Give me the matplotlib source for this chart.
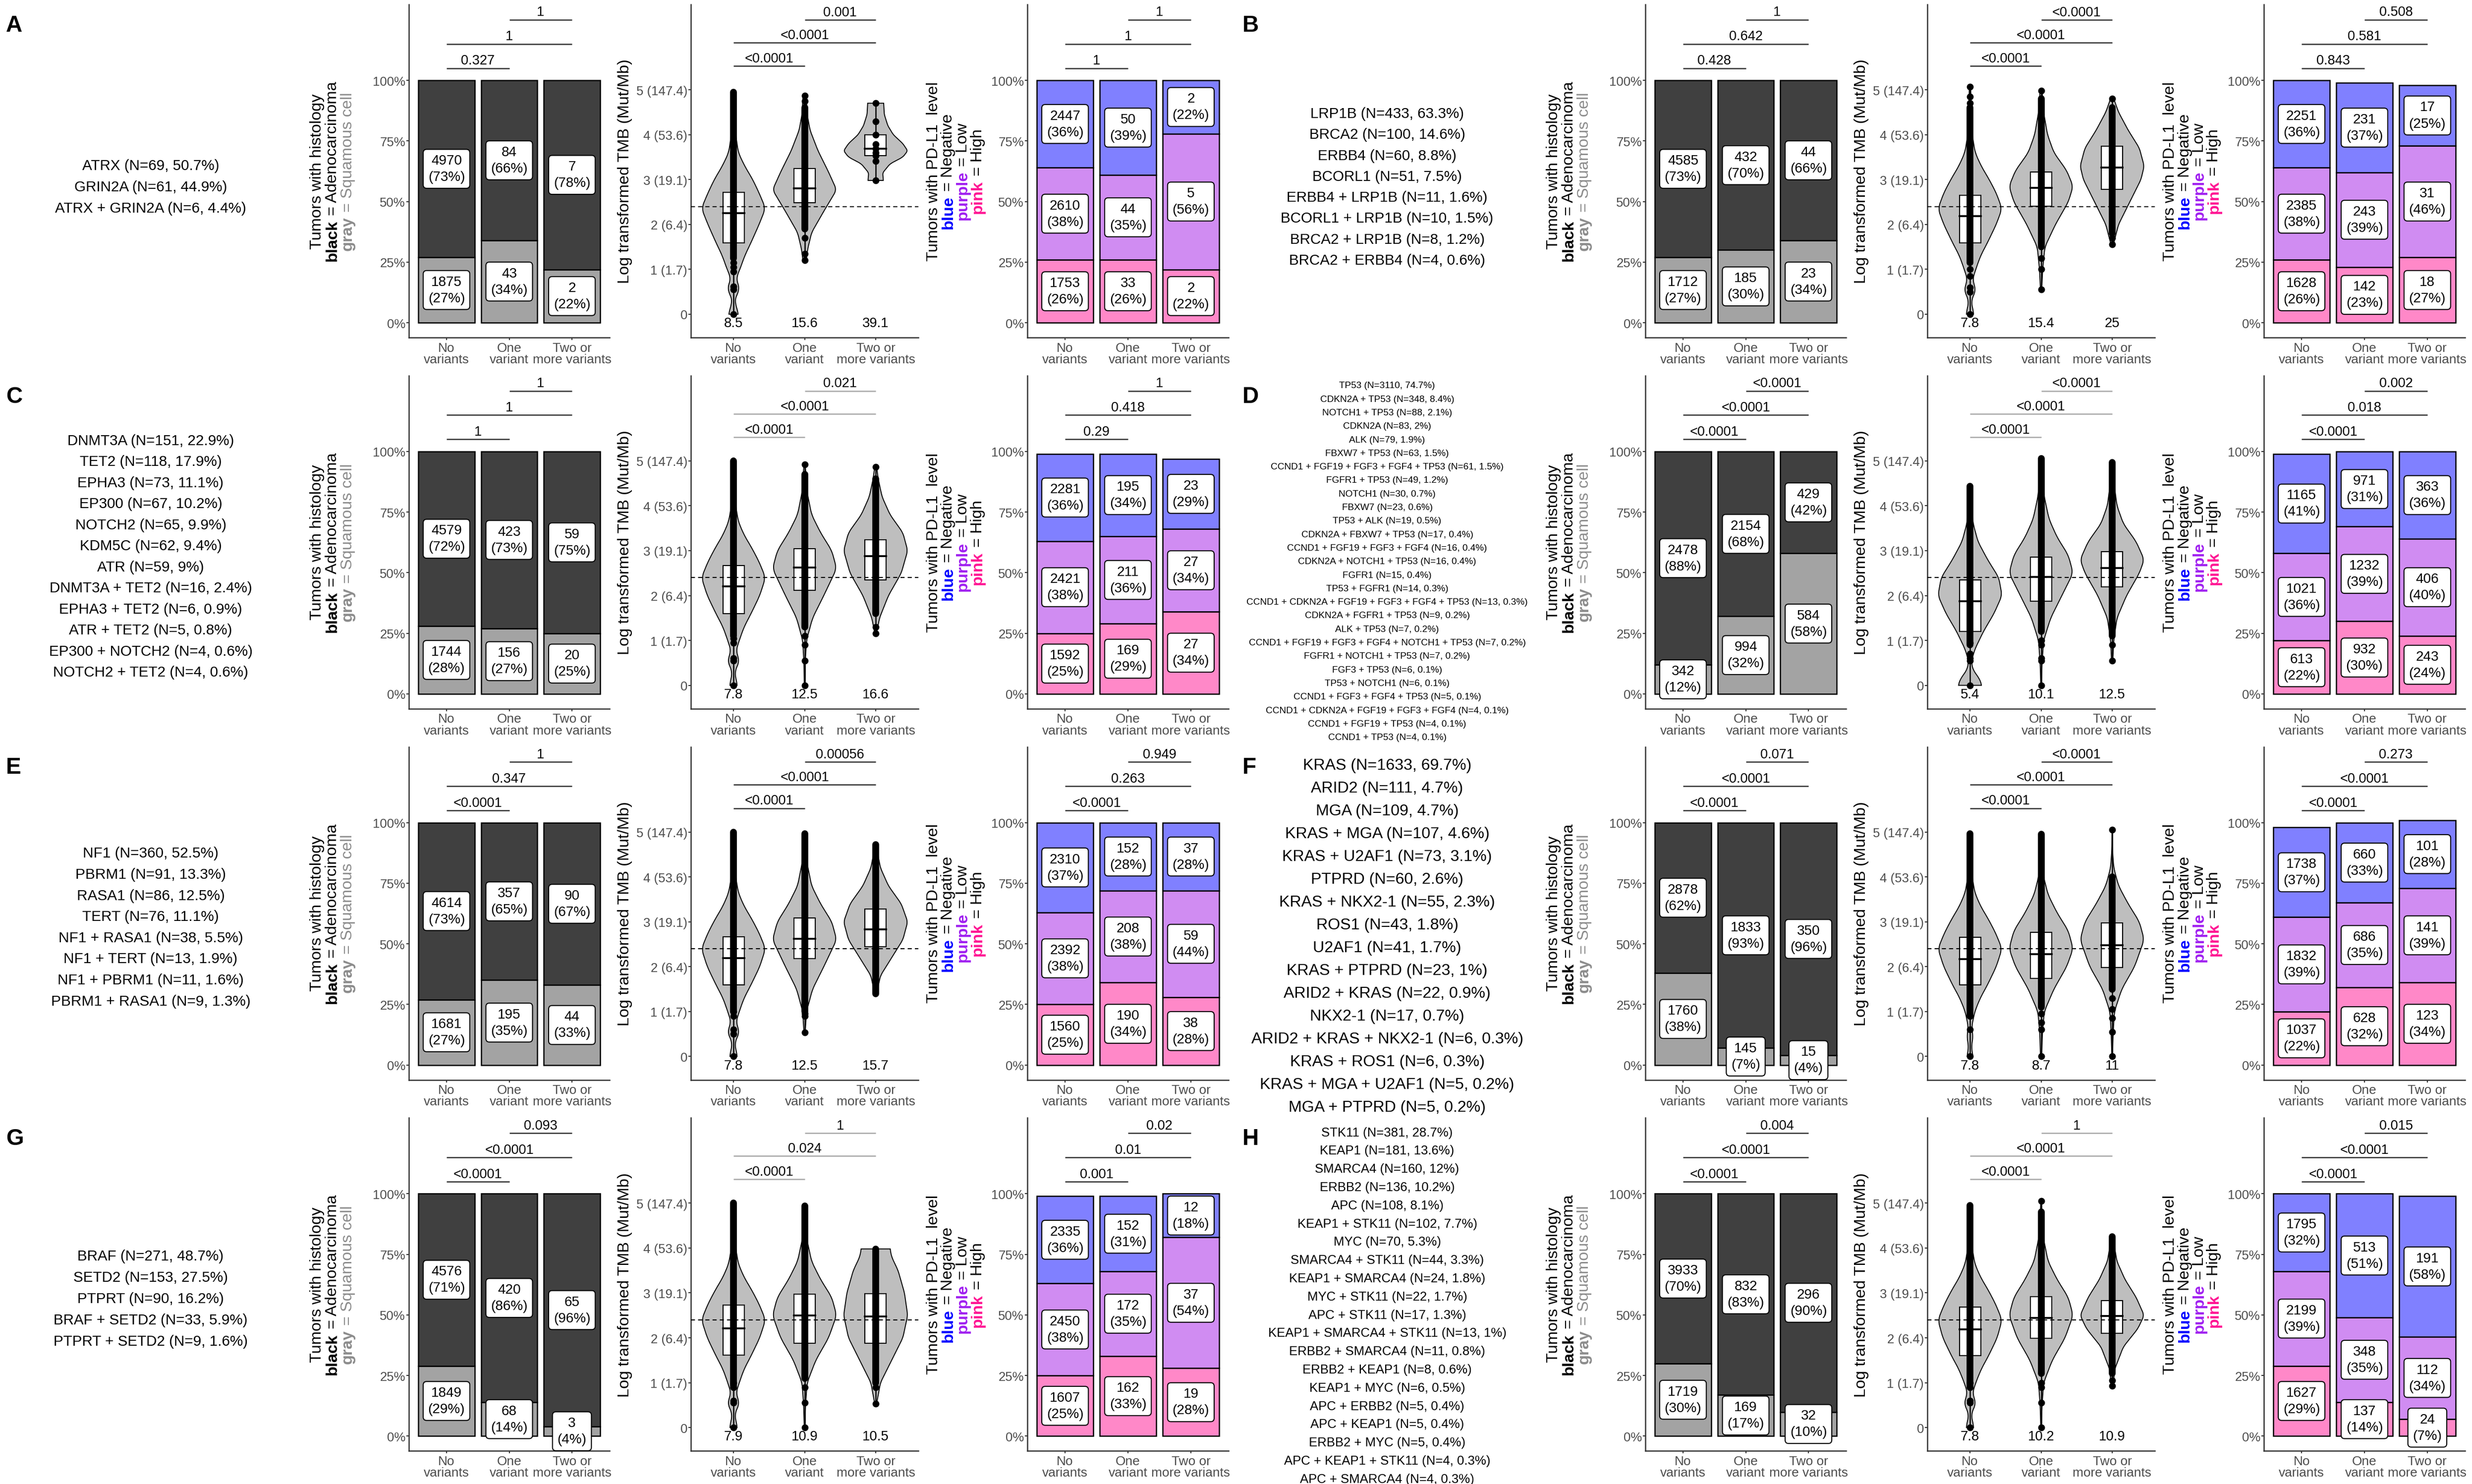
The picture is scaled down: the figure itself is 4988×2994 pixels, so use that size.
import matplotlib
matplotlib.use('Agg')
import matplotlib.pyplot as plt
from matplotlib import font_manager
from matplotlib.patches import Rectangle
import numpy as np

# ---------------- data ----------------
letters = ['A', 'B', 'C', 'D', 'E', 'F', 'G', 'H']
groups = ['No\nvariants', 'One\nvariant', 'Two or\nmore variants']

genes = {
    'A': ['ATRX (N=69, 50.7%)', 'GRIN2A (N=61, 44.9%)', 'ATRX + GRIN2A (N=6, 4.4%)'],
    'B': ['LRP1B (N=433, 63.3%)', 'BRCA2 (N=100, 14.6%)', 'ERBB4 (N=60, 8.8%)', 'BCORL1 (N=51, 7.5%)',
          'ERBB4 + LRP1B (N=11, 1.6%)', 'BCORL1 + LRP1B (N=10, 1.5%)', 'BRCA2 + LRP1B (N=8, 1.2%)',
          'BRCA2 + ERBB4 (N=4, 0.6%)'],
    'C': ['DNMT3A (N=151, 22.9%)', 'TET2 (N=118, 17.9%)', 'EPHA3 (N=73, 11.1%)', 'EP300 (N=67, 10.2%)',
          'NOTCH2 (N=65, 9.9%)', 'KDM5C (N=62, 9.4%)', 'ATR (N=59, 9%)', 'DNMT3A + TET2 (N=16, 2.4%)',
          'EPHA3 + TET2 (N=6, 0.9%)', 'ATR + TET2 (N=5, 0.8%)', 'EP300 + NOTCH2 (N=4, 0.6%)',
          'NOTCH2 + TET2 (N=4, 0.6%)'],
    'D': ['TP53 (N=3110, 74.7%)', 'CDKN2A + TP53 (N=348, 8.4%)', 'NOTCH1 + TP53 (N=88, 2.1%)',
          'CDKN2A (N=83, 2%)', 'ALK (N=79, 1.9%)', 'FBXW7 + TP53 (N=63, 1.5%)',
          'CCND1 + FGF19 + FGF3 + FGF4 + TP53 (N=61, 1.5%)', 'FGFR1 + TP53 (N=49, 1.2%)',
          'NOTCH1 (N=30, 0.7%)', 'FBXW7 (N=23, 0.6%)', 'TP53 + ALK (N=19, 0.5%)',
          'CDKN2A + FBXW7 + TP53 (N=17, 0.4%)', 'CCND1 + FGF19 + FGF3 + FGF4 (N=16, 0.4%)',
          'CDKN2A + NOTCH1 + TP53 (N=16, 0.4%)', 'FGFR1 (N=15, 0.4%)', 'TP53 + FGFR1 (N=14, 0.3%)',
          'CCND1 + CDKN2A + FGF19 + FGF3 + FGF4 + TP53 (N=13, 0.3%)', 'CDKN2A + FGFR1 + TP53 (N=9, 0.2%)',
          'ALK + TP53 (N=7, 0.2%)', 'CCND1 + FGF19 + FGF3 + FGF4 + NOTCH1 + TP53 (N=7, 0.2%)',
          'FGFR1 + NOTCH1 + TP53 (N=7, 0.2%)', 'FGF3 + TP53 (N=6, 0.1%)', 'TP53 + NOTCH1 (N=6, 0.1%)',
          'CCND1 + FGF3 + FGF4 + TP53 (N=5, 0.1%)', 'CCND1 + CDKN2A + FGF19 + FGF3 + FGF4 (N=4, 0.1%)',
          'CCND1 + FGF19 + TP53 (N=4, 0.1%)', 'CCND1 + TP53 (N=4, 0.1%)'],
    'E': ['NF1 (N=360, 52.5%)', 'PBRM1 (N=91, 13.3%)', 'RASA1 (N=86, 12.5%)', 'TERT (N=76, 11.1%)',
          'NF1 + RASA1 (N=38, 5.5%)', 'NF1 + TERT (N=13, 1.9%)', 'NF1 + PBRM1 (N=11, 1.6%)',
          'PBRM1 + RASA1 (N=9, 1.3%)'],
    'F': ['KRAS (N=1633, 69.7%)', 'ARID2 (N=111, 4.7%)', 'MGA (N=109, 4.7%)', 'KRAS + MGA (N=107, 4.6%)',
          'KRAS + U2AF1 (N=73, 3.1%)', 'PTPRD (N=60, 2.6%)', 'KRAS + NKX2-1 (N=55, 2.3%)',
          'ROS1 (N=43, 1.8%)', 'U2AF1 (N=41, 1.7%)', 'KRAS + PTPRD (N=23, 1%)', 'ARID2 + KRAS (N=22, 0.9%)',
          'NKX2-1 (N=17, 0.7%)', 'ARID2 + KRAS + NKX2-1 (N=6, 0.3%)', 'KRAS + ROS1 (N=6, 0.3%)',
          'KRAS + MGA + U2AF1 (N=5, 0.2%)', 'MGA + PTPRD (N=5, 0.2%)'],
    'G': ['BRAF (N=271, 48.7%)', 'SETD2 (N=153, 27.5%)', 'PTPRT (N=90, 16.2%)',
          'BRAF + SETD2 (N=33, 5.9%)', 'PTPRT + SETD2 (N=9, 1.6%)'],
    'H': ['STK11 (N=381, 28.7%)', 'KEAP1 (N=181, 13.6%)', 'SMARCA4 (N=160, 12%)', 'ERBB2 (N=136, 10.2%)',
          'APC (N=108, 8.1%)', 'KEAP1 + STK11 (N=102, 7.7%)', 'MYC (N=70, 5.3%)',
          'SMARCA4 + STK11 (N=44, 3.3%)', 'KEAP1 + SMARCA4 (N=24, 1.8%)', 'MYC + STK11 (N=22, 1.7%)',
          'APC + STK11 (N=17, 1.3%)', 'KEAP1 + SMARCA4 + STK11 (N=13, 1%)', 'ERBB2 + SMARCA4 (N=11, 0.8%)',
          'ERBB2 + KEAP1 (N=8, 0.6%)', 'KEAP1 + MYC (N=6, 0.5%)', 'APC + ERBB2 (N=5, 0.4%)',
          'APC + KEAP1 (N=5, 0.4%)', 'ERBB2 + MYC (N=5, 0.4%)', 'APC + KEAP1 + STK11 (N=4, 0.3%)',
          'APC + SMARCA4 (N=4, 0.3%)'],
}

# histology: adenocarcinoma (black) / squamous (gray)
adeno_n = {'A': [4970, 84, 7], 'B': [4585, 432, 44], 'C': [4579, 423, 59], 'D': [2478, 2154, 429],
           'E': [4614, 357, 90], 'F': [2878, 1833, 350], 'G': [4576, 420, 65], 'H': [3933, 832, 296]}
adeno_pct = {'A': [73, 66, 78], 'B': [73, 70, 66], 'C': [72, 73, 75], 'D': [88, 68, 42],
             'E': [73, 65, 67], 'F': [62, 93, 96], 'G': [71, 86, 96], 'H': [70, 83, 90]}
squam_n = {'A': [1875, 43, 2], 'B': [1712, 185, 23], 'C': [1744, 156, 20], 'D': [342, 994, 584],
           'E': [1681, 195, 44], 'F': [1760, 145, 15], 'G': [1849, 68, 3], 'H': [1719, 169, 32]}
squam_pct = {'A': [27, 34, 22], 'B': [27, 30, 34], 'C': [28, 27, 25], 'D': [12, 32, 58],
             'E': [27, 35, 33], 'F': [38, 7, 4], 'G': [29, 14, 4], 'H': [30, 17, 10]}

# p-values: [No vs One, No vs Two, One vs Two]
hist_p = {'A': ['0.327', '1', '1'], 'B': ['0.428', '0.642', '1'], 'C': ['1', '1', '1'],
          'D': ['<0.0001', '<0.0001', '<0.0001'], 'E': ['<0.0001', '0.347', '1'],
          'F': ['<0.0001', '<0.0001', '0.071'], 'G': ['<0.0001', '<0.0001', '0.093'],
          'H': ['<0.0001', '<0.0001', '0.004']}
tmb_p = {'A': ['<0.0001', '<0.0001', '0.001'], 'B': ['<0.0001', '<0.0001', '<0.0001'],
         'C': ['<0.0001', '<0.0001', '0.021'], 'D': ['<0.0001', '<0.0001', '<0.0001'],
         'E': ['<0.0001', '<0.0001', '0.00056'], 'F': ['<0.0001', '<0.0001', '<0.0001'],
         'G': ['<0.0001', '0.024', '1'], 'H': ['<0.0001', '<0.0001', '1']}
pdl1_p = {'A': ['1', '1', '1'], 'B': ['0.843', '0.581', '0.508'], 'C': ['0.29', '0.418', '1'],
          'D': ['<0.0001', '0.018', '0.002'], 'E': ['<0.0001', '0.263', '0.949'],
          'F': ['<0.0001', '<0.0001', '0.273'], 'G': ['0.001', '0.01', '0.02'],
          'H': ['<0.0001', '<0.0001', '0.015']}
tmb_bracket_light = ['C', 'D', 'G', 'H']

# median TMB labels
tmb_median = {'A': ['8.5', '15.6', '39.1'], 'B': ['7.8', '15.4', '25'], 'C': ['7.8', '12.5', '16.6'],
              'D': ['5.4', '10.1', '12.5'], 'E': ['7.8', '12.5', '15.7'], 'F': ['7.8', '8.7', '11'],
              'G': ['7.9', '10.9', '10.5'], 'H': ['7.8', '10.2', '10.9']}
tmb_ref = 2.4

# PD-L1: negative (blue) / low (purple) / high (pink)
neg_n = {'A': [2447, 50, 2], 'B': [2251, 231, 17], 'C': [2281, 195, 23], 'D': [1165, 971, 363],
         'E': [2310, 152, 37], 'F': [1738, 660, 101], 'G': [2335, 152, 12], 'H': [1795, 513, 191]}
neg_pct = {'A': [36, 39, 22], 'B': [36, 37, 25], 'C': [36, 34, 29], 'D': [41, 31, 36],
           'E': [37, 28, 28], 'F': [37, 33, 28], 'G': [36, 31, 18], 'H': [32, 51, 58]}
low_n = {'A': [2610, 44, 5], 'B': [2385, 243, 31], 'C': [2421, 211, 27], 'D': [1021, 1232, 406],
         'E': [2392, 208, 59], 'F': [1832, 686, 141], 'G': [2450, 172, 37], 'H': [2199, 348, 112]}
low_pct = {'A': [38, 35, 56], 'B': [38, 39, 46], 'C': [38, 36, 34], 'D': [36, 39, 40],
           'E': [38, 38, 44], 'F': [39, 35, 39], 'G': [38, 35, 54], 'H': [39, 35, 34]}
high_n = {'A': [1753, 33, 2], 'B': [1628, 142, 18], 'C': [1592, 169, 27], 'D': [613, 932, 243],
          'E': [1560, 190, 38], 'F': [1037, 628, 123], 'G': [1607, 162, 19], 'H': [1627, 137, 24]}
high_pct = {'A': [26, 26, 22], 'B': [26, 23, 27], 'C': [25, 29, 34], 'D': [22, 30, 24],
            'E': [25, 34, 28], 'F': [22, 32, 34], 'G': [25, 33, 28], 'H': [29, 14, 7]}

# TMB violins: box stats (q1, median, q3), outline (log TMB, relative width), dot column
tmb_box = {
    'A': [(1.59, 2.25, 2.71), (2.48, 2.80, 3.25), (3.53, 3.69, 4.00)],
    'B': [(1.59, 2.18, 2.65), (2.41, 2.81, 3.17), (2.78, 3.27, 3.74)],
    'C': [(1.60, 2.20, 2.67), (2.12, 2.62, 3.04), (2.35, 2.88, 3.24)],
    'D': [(1.20, 1.87, 2.35), (1.87, 2.41, 2.86), (2.19, 2.61, 2.98)],
    'E': [(1.60, 2.19, 2.67), (2.18, 2.62, 3.08), (2.45, 2.83, 3.28)],
    'F': [(1.59, 2.17, 2.66), (1.74, 2.28, 2.77), (1.98, 2.48, 2.98)],
    'G': [(1.61, 2.21, 2.73), (1.88, 2.50, 2.97), (1.88, 2.47, 2.98)],
    'H': [(1.60, 2.19, 2.68), (1.99, 2.44, 2.92), (2.10, 2.49, 2.83)],
}
tmb_outline = {
    'A': [[(0, .15), (.12, .12), (.25, .04), (.4, .07), (.56, .21), (.7, .12), (.8, .08), (1.0, .2), (1.3, .35),
           (1.6, .55), (2.0, .8), (2.36, 1.0), (2.7, .8), (3.0, .6), (3.3, .35), (3.6, .15), (4.0, .07),
           (4.5, .04), (5.0, .02)],
          [(1.19, .05), (1.46, .1), (1.82, .22), (2.28, .59), (2.77, 1.0), (3.18, .74), (3.64, .42),
           (4.1, .17), (4.46, .08), (4.87, .05)],
          [(2.98, .24), (3.15, .22), (3.35, .45), (3.5, .85), (3.64, 1.0), (3.8, .85), (4.0, .55),
           (4.2, .38), (4.45, .27), (4.7, .25)]],
    'B': [[(0, .12), (.15, .08), (.3, .03), (.55, .2), (.75, .07), (1.0, .18), (1.3, .33), (1.6, .55),
           (2.0, .82), (2.35, 1.0), (2.7, .82), (3.0, .6), (3.3, .35), (3.6, .16), (4.0, .07), (4.5, .04),
           (5.07, .02)],
          [(.55, .02), (1.0, .05), (1.5, .12), (2.0, .45), (2.5, .85), (2.85, 1.0), (3.2, .8), (3.6, .4),
           (4.0, .2), (4.5, .08), (4.98, .03)],
          [(1.56, .04), (2.0, .2), (2.5, .55), (3.0, .9), (3.3, 1.0), (3.7, .85), (4.1, .5), (4.5, .2),
           (4.8, .05)]],
    'C': [[(0, .12), (.15, .08), (.3, .03), (.55, .2), (.75, .07), (1.0, .18), (1.3, .33), (1.6, .55),
           (2.0, .82), (2.4, 1.0), (2.75, .8), (3.05, .58), (3.35, .33), (3.65, .15), (4.0, .07),
           (4.5, .04), (5.06, .02)],
          [(0, .01), (.5, .02), (1.0, .06), (1.5, .25), (2.0, .6), (2.6, 1.0), (3.0, .85), (3.4, .5),
           (3.8, .22), (4.3, .08), (4.92, .02)],
          [(1.16, .03), (1.5, .12), (2.0, .4), (2.5, .8), (3.0, 1.0), (3.4, .85), (3.8, .45), (4.2, .2),
           (4.6, .08), (4.87, .03)]],
    'D': [[(0, .37), (.15, .3), (.35, .08), (.55, .05), (.8, .15), (1.2, .42), (1.6, .75), (2.0, 1.0),
           (2.4, .9), (2.8, .55), (3.2, .25), (3.6, .1), (4.0, .04), (4.43, .02)],
          [(0, .01), (.5, .03), (1.0, .08), (1.5, .3), (2.0, .65), (2.5, 1.0), (2.9, .85), (3.3, .5),
           (3.7, .25), (4.2, .1), (4.6, .05), (5.05, .02)],
          [(.55, .02), (1.0, .05), (1.5, .15), (2.0, .45), (2.5, .85), (2.8, 1.0), (3.2, .75), (3.6, .35),
           (4.0, .15), (4.5, .06), (4.96, .02)]],
    'E': [[(0, .12), (.15, .08), (.3, .03), (.55, .2), (.75, .07), (1.0, .18), (1.3, .33), (1.6, .55),
           (2.0, .82), (2.4, 1.0), (2.75, .8), (3.05, .58), (3.35, .33), (3.65, .15), (4.0, .07),
           (4.5, .04), (5.0, .02)],
          [(.54, .02), (1.0, .06), (1.5, .25), (2.0, .6), (2.6, 1.0), (3.0, .85), (3.4, .5), (3.8, .22),
           (4.3, .08), (4.96, .02)],
          [(1.39, .03), (1.8, .15), (2.2, .5), (2.6, .85), (3.0, 1.0), (3.4, .8), (3.8, .4), (4.2, .15),
           (4.5, .07), (4.72, .03)]],
    'F': [[(0, .1), (.2, .04), (.45, .1), (.65, .05), (1.0, .15), (1.3, .32), (1.6, .55), (2.0, .82),
           (2.4, 1.0), (2.75, .8), (3.05, .58), (3.35, .33), (3.65, .15), (4.0, .07), (4.5, .03),
           (4.96, .01)],
          [(0, .02), (.5, .04), (1.0, .1), (1.5, .4), (2.0, .8), (2.4, 1.0), (2.8, .85), (3.2, .5),
           (3.6, .22), (4.0, .08), (4.5, .03), (4.95, .01)],
          [(0, .01), (.5, .03), (1.0, .07), (1.5, .3), (2.0, .7), (2.6, 1.0), (3.0, .85), (3.4, .5),
           (3.8, .2), (4.2, .05), (4.6, .01), (5.05, .005)]],
    'G': [[(0, .12), (.15, .08), (.3, .03), (.55, .2), (.75, .07), (1.0, .18), (1.3, .33), (1.6, .55),
           (2.0, .82), (2.4, 1.0), (2.75, .8), (3.05, .58), (3.35, .33), (3.65, .15), (4.0, .07),
           (4.5, .04), (5.0, .02)],
          [(0, .01), (.5, .03), (1.0, .08), (1.5, .35), (2.0, .75), (2.5, 1.0), (2.9, .85), (3.3, .5),
           (3.7, .22), (4.2, .07), (4.94, .02)],
          [(.53, .03), (1.0, .15), (1.5, .5), (2.0, .85), (2.5, 1.0), (3.0, .9), (3.5, .7), (3.8, .5),
           (3.98, .45)]],
    'H': [[(0, .12), (.15, .08), (.3, .03), (.55, .2), (.75, .07), (1.0, .18), (1.3, .35), (1.6, .58),
           (2.0, .85), (2.4, 1.0), (2.75, .8), (3.05, .58), (3.35, .33), (3.65, .15), (4.0, .07),
           (4.5, .03), (4.95, .01)],
          [(0, .01), (.5, .03), (1.0, .08), (1.5, .35), (2.0, .75), (2.5, 1.0), (2.9, .85), (3.3, .5),
           (3.7, .22), (4.2, .08), (4.6, .03), (5.05, .01)],
          [(.93, .03), (1.3, .08), (1.8, .35), (2.2, .8), (2.5, 1.0), (2.9, .75), (3.3, .4), (3.7, .15),
           (4.0, .08), (4.25, .05)]],
}
# dense run of overlapping points (from, to) and separate points
tmb_dense = {
    'A': [(1.25, 4.95), (1.9, 4.6), None], 'B': [(1.15, 4.6), (1.5, 4.8), (1.8, 4.6)],
    'C': [(1.1, 5.0), (1.3, 4.7), (1.6, 4.6)], 'D': [(0.9, 4.43), (1.2, 5.05), (1.1, 4.96)],
    'E': [(1.0, 5.0), (1.0, 4.96), (1.4, 4.72)], 'F': [(0.9, 4.96), (1.1, 4.95), (1.5, 4.0)],
    'G': [(0.9, 5.0), (1.1, 4.94), (1.0, 3.98)], 'H': [(0.9, 4.95), (1.2, 4.8), (1.2, 4.25)],
}
tmb_points = {
    'A': [[0.0, 0.55, 0.62, 0.95, 1.05, 1.15], [1.2, 1.35, 1.7, 4.75, 4.87],
          [2.98, 3.41, 3.53, 3.60, 3.69, 3.79, 4.0, 4.29, 4.70]],
    'B': [[0.0, 0.5, 0.6, 0.85, 1.0, 4.7, 4.85, 5.07], [0.55, 1.0, 1.25, 4.98], [1.56, 1.7, 4.8]],
    'C': [[0.0, 0.55, 0.6, 0.95, 1.05], [0.0, 0.55, 0.9, 1.1, 4.92], [1.16, 1.3, 4.87]],
    'D': [[0.0, 0.55, 0.6, 0.7, 0.95], [0.0, 0.55, 0.6, 0.9, 1.0], [0.55, 0.9]],
    'E': [[0.0, 0.5, 0.6, 0.9, 1.0], [0.54, 0.9, 0.95], []],
    'F': [[0.0, 0.6, 0.9], [0.0, 0.6, 0.75, 0.95], [0.0, 0.55, 0.85, 1.05, 1.3, 5.05]],
    'G': [[0.0, 0.55, 0.6, 0.9, 1.0], [0.0, 0.55, 0.9], [0.53, 0.9]],
    'H': [[0.0, 0.55, 0.6, 0.9, 1.0], [0.0, 0.55, 0.9, 1.0, 5.05], [0.93, 1.05]],
}

# ---------------- layout / style ----------------
W, H = 4988, 2995
DPI = 300
fig = plt.figure(figsize=(W / DPI, H / DPI), dpi=DPI)
names = {f.name for f in font_manager.fontManager.ttflist}
FONT = 'Liberation Sans' if 'Liberation Sans' in names else 'DejaVu Sans'
plt.rcParams['font.family'] = FONT
renderer = fig.canvas.get_renderer()

ROW_H = H / 4
COL_X = [0, 2495]
panel_pos = {'A': (0, 0), 'B': (0, 1), 'C': (1, 0), 'D': (1, 1),
             'E': (2, 0), 'F': (2, 1), 'G': (3, 0), 'H': (3, 1)}
AX_X = {'hist': (825, 1230), 'tmb': (1394, 1853), 'pdl1': (2073, 2479)}
AX_TOP, AX_BOT = 10, 682

C_ADENO, C_SQUAM = '#404040', '#A3A3A3'
C_NEG, C_LOW, C_HIGH = '#8080FF', '#D08CF2', '#FF88C8'
TICK_C = '#4D4D4D'
list_target = {'A': 386, 'B': 429, 'C': 411, 'D': 567, 'E': 400, 'F': 547, 'G': 392, 'H': 479}
list_center = {'A': 378, 'B': 378, 'C': 375, 'D': 385, 'E': 374, 'F': 393, 'G': 375, 'H': 389}
list_step = {'A': 43, 'B': 42.3, 'C': 42.5, 'D': 27.3, 'E': 42.6, 'F': 46, 'G': 43, 'H': 36.8}


def text_w(s, size, weight='normal'):
    t = fig.text(0, 0, s, fontsize=size, fontweight=weight)
    w = t.get_window_extent(renderer).width
    t.remove()
    return w


def make_ax(kind, row, col):
    x0, x1 = AX_X[kind]
    x0 += COL_X[col]
    x1 += COL_X[col]
    y0 = row * ROW_H + AX_TOP
    y1 = row * ROW_H + AX_BOT
    ax = fig.add_axes([x0 / W, 1 - y1 / H, (x1 - x0) / W, (y1 - y0) / H])
    for s in ['top', 'right']:
        ax.spines[s].set_visible(False)
    for s in ['left', 'bottom']:
        ax.spines[s].set_linewidth(0.6)
        ax.spines[s].set_color('#333333')
    ax.set_xlim(0.4, 3.6)
    ax.set_xticks([1, 2, 3])
    ax.set_xticklabels(groups, fontsize=6.3, color=TICK_C, linespacing=0.95)
    ax.tick_params(axis='both', length=1.3, width=0.5, color='#333333', pad=0.8)
    ax.tick_params(axis='y', labelsize=6.2, labelcolor=TICK_C, pad=0.4)
    ax.set_facecolor('none')
    return ax, x0, y0, y1


def brackets(ax, levels, pv, color, gap):
    pairs = [(1, 2), (1, 3), (2, 3)]
    for (a, b), lv, p in zip(pairs, levels, pv):
        ax.plot([a, b], [lv, lv], color=color, lw=0.6, clip_on=False, solid_capstyle='butt')
        ax.text((a + b) / 2, lv + gap, p, ha='center', va='baseline', fontsize=6.5, clip_on=False)


def rot_title(x_base, y_center, lines, size, spacing):
    # lines: list of [(text, color, weight), ...]; y_center in top-down px
    for i, pieces in enumerate(lines):
        xb = x_base + i * spacing
        widths = [text_w(s, size, wt) for s, c, wt in pieces]
        y = (H - y_center) - sum(widths) / 2
        for (s, c, wt), w in zip(pieces, widths):
            fig.text(xb / W, y / H, s, rotation=90, rotation_mode='anchor', ha='left', va='baseline',
                     fontsize=size, color=c, fontweight=wt)
            y += w


def count_label(ax, x, y, n, p):
    ax.text(x, y, f'{n}\n({p}%)', ha='center', va='center', fontsize=6.7, linespacing=1.35,
            bbox=dict(boxstyle='round,pad=0.35,rounding_size=0.25', fc='white', ec='black', lw=0.5),
            zorder=5, clip_on=False)


def violin_shape(cx, outline):
    ys = np.array([p[0] for p in outline])
    ws = np.array([p[1] for p in outline])
    grid = np.linspace(ys[0], ys[-1], 400)
    w = np.interp(grid, ys, ws)
    k = 21
    w = np.convolve(np.pad(w, k // 2, mode='edge'), np.ones(k) / k, mode='valid')
    half = 0.45 * w
    xs = np.concatenate([cx - half, (cx + half)[::-1]])
    yy = np.concatenate([grid, grid[::-1]])
    return xs, yy


TITLE_SIZE = 7.8
for L in letters:
    row, col = panel_pos[L]
    rtop = row * ROW_H
    cx0 = COL_X[col]

    # panel letter
    fig.text((cx0 + 12) / W, 1 - (rtop + 30) / H, L, fontsize=11, fontweight='bold', va='top', ha='left')

    # gene list
    lines = genes[L]
    wmax = max(text_w(s, 7.0) for s in lines)
    fs = 7.0 * list_target[L] / wmax
    n = len(lines)
    for i, s in enumerate(lines):
        yc = rtop + list_center[L] + (i - (n - 1) / 2) * list_step[L]
        fig.text((cx0 + 304) / W, 1 - yc / H, s, fontsize=fs, ha='center', va='center')

    # ---- histology bars ----
    ax, x0, y0, y1 = make_ax('hist', row, col)
    xs = np.arange(1, 4)
    sq = np.array(squam_pct[L])
    ad = np.array(adeno_pct[L])
    ax.bar(xs, sq, width=0.9, color=C_SQUAM, edgecolor='black', lw=0.6, zorder=2)
    ax.bar(xs, ad, bottom=sq, width=0.9, color=C_ADENO, edgecolor='black', lw=0.6, zorder=2)
    for i in range(3):
        count_label(ax, xs[i], sq[i] + ad[i] / 2, adeno_n[L][i], adeno_pct[L][i])
        count_label(ax, xs[i], sq[i] / 2, squam_n[L][i], squam_pct[L][i])
    ax.set_ylim(-6.1, 131.3)
    ax.set_yticks([0, 25, 50, 75, 100])
    ax.set_yticklabels(['0%', '25%', '50%', '75%', '100%'])
    brackets(ax, [105, 115, 125], hist_p[L], '#333333', 1.7)
    yc = (y0 + y1) / 2
    rot_title(x0 - 177, yc,
              [[('Tumors with histology', 'black', 'normal')],
               [('black', 'black', 'bold'), (' = Adenocarcinoma', 'black', 'normal')],
               [('gray', '#8C8C8C', 'bold'), (' = Squamous cell', '#8C8C8C', 'normal')]],
              TITLE_SIZE, 31)

    # ---- TMB violins ----
    ax, x0, y0, y1 = make_ax('tmb', row, col)
    for i in range(3):
        cx = i + 1
        vx, vy = violin_shape(cx, tmb_outline[L][i])
        ax.fill(vx, vy, fc='#BEBEBE', ec='black', lw=0.45, zorder=2)
        lo = tmb_outline[L][i][0][0]
        hi = tmb_outline[L][i][-1][0]
        ax.plot([cx, cx], [lo, hi], color='black', lw=0.6, zorder=3)
        q1, med, q3 = tmb_box[L][i]
        ax.add_patch(Rectangle((cx - 0.15, q1), 0.3, q3 - q1, fc='white', ec='black', lw=0.5, zorder=3))
        ax.plot([cx - 0.15, cx + 0.15], [med, med], color='black', lw=0.9, zorder=4)
        d = tmb_dense[L][i]
        if d is not None:
            ax.plot([cx, cx], list(d), color='black', lw=3.3, solid_capstyle='round', zorder=6)
        pts = tmb_points[L][i]
        if pts:
            ax.plot([cx] * len(pts), pts, 'o', color='black', ms=3.3, mew=0, zorder=6)
        ax.text(cx, -0.2, tmb_median[L][i], ha='center', va='center', fontsize=6.6)
    ax.axhline(tmb_ref, color='black', lw=0.5, ls=(0, (4, 3)), zorder=5)
    ax.set_ylim(-0.52, 6.9)
    ax.set_yticks([0, 1, 2, 3, 4, 5])
    ax.set_yticklabels(['0', '1 (1.7)', '2 (6.4)', '3 (19.1)', '4 (53.6)', '5 (147.4)'])
    bc = '#A8A8A8' if L in tmb_bracket_light else '#333333'
    brackets(ax, [5.53, 6.05, 6.56], tmb_p[L], bc, 0.09)
    rot_title(x0 - 125, (y0 + y1) / 2, [[('Log transformed TMB (Mut/Mb)', 'black', 'normal')]],
              TITLE_SIZE, 0)

    # ---- PD-L1 bars ----
    ax, x0, y0, y1 = make_ax('pdl1', row, col)
    hp = np.array(high_pct[L])
    lp = np.array(low_pct[L])
    npct = np.array(neg_pct[L])
    ax.bar(xs, hp, width=0.9, color=C_HIGH, edgecolor='black', lw=0.6, zorder=2)
    ax.bar(xs, lp, bottom=hp, width=0.9, color=C_LOW, edgecolor='black', lw=0.6, zorder=2)
    ax.bar(xs, npct, bottom=hp + lp, width=0.9, color=C_NEG, edgecolor='black', lw=0.6, zorder=2)
    for i in range(3):
        count_label(ax, xs[i], hp[i] / 2, high_n[L][i], high_pct[L][i])
        count_label(ax, xs[i], hp[i] + lp[i] / 2, low_n[L][i], low_pct[L][i])
        count_label(ax, xs[i], hp[i] + lp[i] + npct[i] / 2, neg_n[L][i], neg_pct[L][i])
    ax.set_ylim(-6.1, 131.3)
    ax.set_yticks([0, 25, 50, 75, 100])
    ax.set_yticklabels(['0%', '25%', '50%', '75%', '100%'])
    brackets(ax, [105, 115, 125], pdl1_p[L], '#333333', 1.7)
    rot_title(x0 - 181, (y0 + y1) / 2,
              [[('Tumors with PD-L1  level', 'black', 'normal')],
               [('blue', '#0000FF', 'bold'), (' = Negative', 'black', 'normal')],
               [('purple', '#A020F0', 'bold'), (' = Low', 'black', 'normal')],
               [('pink', '#FF1493', 'bold'), (' = High', 'black', 'normal')]],
              TITLE_SIZE, 29.5)

fig.savefig('out.png', dpi=DPI, facecolor='white')
